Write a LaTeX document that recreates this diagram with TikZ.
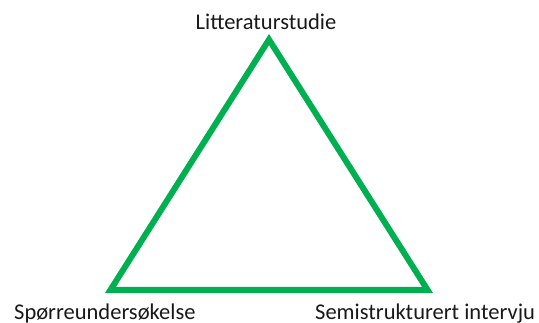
\documentclass[tikz,border=0pt]{standalone}
\usepackage{fontspec}
\setmainfont{Carlito}
\usetikzlibrary{positioning}
\definecolor{trigreen}{HTML}{00B050}
\tikzset{
  side/.style={trigreen,line width=6pt,line join=miter},
  label/.style={inner sep=0pt,anchor=base,font=\fontsize{22.5}{26}\selectfont,text=black!90}
}
\begin{document}
\begin{tikzpicture}[x=1pt,y=-1pt]
\useasboundingbox (0,0) rectangle (539,323);
% vertices of the triangle
\coordinate (top) at (269,39.6);
\coordinate (left) at (110.4,290);
\coordinate (right) at (427.6,290);
\draw[side] (top) -- (left) -- (right) -- cycle;
% labels
\node[label] (litt) at (266,30) {Litteraturstudie};
\node[label,anchor=base west] (spor) at (14,320) {Spørreundersøkelse};
\node[label,anchor=base west] (semi) at (315,320) {Semistrukturert intervju};
\end{tikzpicture}
\end{document}
